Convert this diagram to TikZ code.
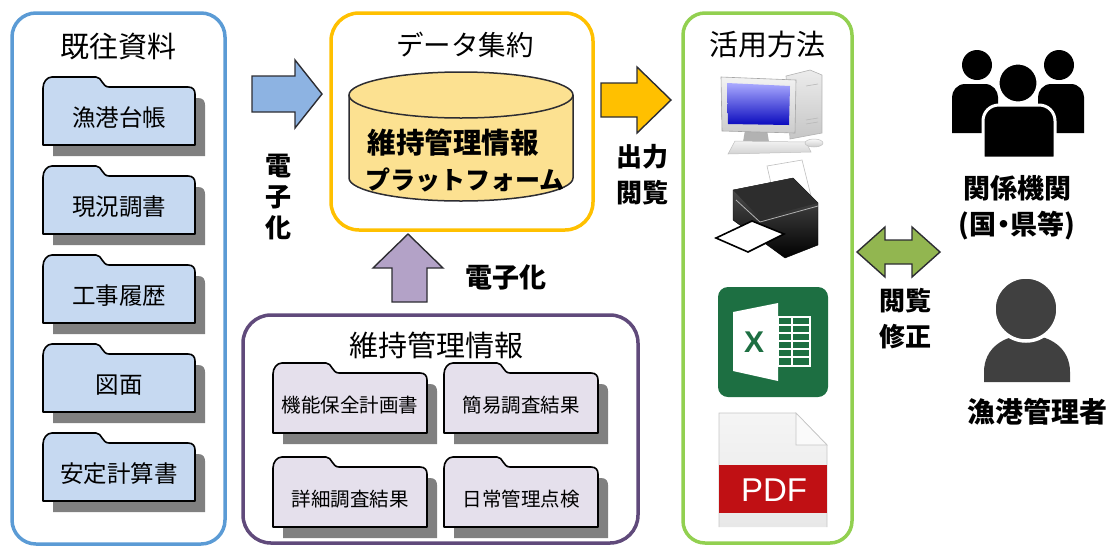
\documentclass[tikz,border=0pt]{standalone}
\usepackage{fontspec}
\setmainfont{Noto Sans CJK JP}
\newfontfamily\latinsans{Liberation Sans}

\definecolor{bluebox}{RGB}{91,155,213}
\definecolor{bluefld}{RGB}{198,217,241}
\definecolor{bluearrow}{RGB}{141,179,226}
\definecolor{yelbox}{RGB}{255,192,0}
\definecolor{cylfill}{RGB}{252,225,145}
\definecolor{yelarrow}{RGB}{255,192,0}
\definecolor{grnbox}{RGB}{146,208,80}
\definecolor{grnarrow}{RGB}{146,182,80}
\definecolor{purbox}{RGB}{96,74,123}
\definecolor{purarrow}{RGB}{179,162,199}
\definecolor{purfld}{RGB}{229,224,236}
\definecolor{shadowgray}{RGB}{128,128,128}
\definecolor{arrowline}{RGB}{45,45,50}
\definecolor{xlgreen}{RGB}{29,111,66}
\definecolor{pdfred}{RGB}{192,16,20}
\definecolor{persongray}{RGB}{64,64,64}

\tikzset{
  frame/.style={line width=3.5pt},
  ttl/.style={font=\fontsize{29}{29}\selectfont, inner sep=0pt},
  fldL/.style={font=\fontsize{23.5}{23.5}\selectfont, inner sep=0pt},
  fldP/.style={font=\fontsize{19.5}{19.5}\selectfont, inner sep=0pt},
  boldlbl/.style={font=\fontsize{26}{36}\selectfont\bfseries, inner sep=0pt, align=center},
  fshadow/.style={fill=shadowgray},
  fline/.style={draw=black, line width=1.6pt, line join=round},
  blockarrow/.style={draw=arrowline, line width=1.4pt, line join=miter},
}

% folder with drop shadow: name, X, Y (tab top), W, H, fill, text, text style
\newcommand{\folder}[8]{%
  \fill[fshadow, shift={(10,11)}] (#2,#3+#5) -- (#2,#3+11)
    .. controls (#2,#3+5) and (#2+4,#3) .. (#2+9,#3) -- (#2+53,#3)
    .. controls (#2+59,#3) and (#2+59,#3+10) .. (#2+66,#3+10) -- (#2+#4-7,#3+10)
    .. controls (#2+#4-2,#3+10) and (#2+#4,#3+13) .. (#2+#4,#3+17) -- (#2+#4,#3+#5) -- cycle;
  \draw[fline, fill=#6] (#2,#3+#5) -- (#2,#3+11)
    .. controls (#2,#3+5) and (#2+4,#3) .. (#2+9,#3) -- (#2+53,#3)
    .. controls (#2+59,#3) and (#2+59,#3+10) .. (#2+66,#3+10) -- (#2+#4-7,#3+10)
    .. controls (#2+#4-2,#3+10) and (#2+#4,#3+13) .. (#2+#4,#3+17) -- (#2+#4,#3+#5) -- cycle;
  \node[#8] (#1) at (#2+#4/2, #3+#5/2+7) {#7};
}

\begin{document}
\begin{tikzpicture}[x=1pt,y=-1pt]
\useasboundingbox (0,0) rectangle (1116,547);

% ---------- existing documents ----------
\draw[frame, draw=bluebox, rounded corners=24] (12,13) rectangle (225,544);
\node[ttl] (kiou) at (118,47) {既往資料};
\folder{f1}{43}{77}{152}{68}{bluefld}{漁港台帳}{fldL}
\folder{f2}{43}{166}{152}{68}{bluefld}{現況調書}{fldL}
\folder{f3}{43}{255}{152}{68}{bluefld}{工事履歴}{fldL}
\folder{f4}{43}{344}{152}{68}{bluefld}{図面}{fldL}
\folder{f5}{43}{433}{152}{68}{bluefld}{安定計算書}{fldL}

% digitisation arrow
\draw[blockarrow, fill=bluearrow] (252,76) -- (295,76) -- (295,60) -- (322,94)
  -- (295,128) -- (295,112) -- (252,112) -- cycle;
\node[boldlbl, font=\fontsize{26}{31}\selectfont\bfseries] (dig1) at (278,197) {電\\子\\化};

% ---------- data aggregation ----------
\draw[frame, draw=yelbox, rounded corners=28] (331,13) rectangle (593,230);
\node[ttl, font=\fontsize{27.5}{27.5}\selectfont] (shuyaku) at (465,45) {データ集約};
\fill[cylfill] (349,95) -- (349,178)
  .. controls (349,190.7) and (399.1,201) .. (461,201)
  .. controls (522.9,201) and (573,190.7) .. (573,178) -- (573,95) -- cycle;
\draw[line width=1.5pt, draw=arrowline] (349,95) -- (349,178)
  .. controls (349,190.7) and (399.1,201) .. (461,201)
  .. controls (522.9,201) and (573,190.7) .. (573,178) -- (573,95);
\draw[line width=1.5pt, draw=arrowline, fill=cylfill] (461,95) ellipse [x radius=112, y radius=23];
\node[inner sep=0pt, font=\fontsize{28.5}{28.5}\selectfont\bfseries] (plat1) at (453,143) {維持管理情報};
\node[inner sep=0pt, font=\fontsize{25}{25}\selectfont\bfseries] (plat2) at (465,180) {プラットフォーム};

% output arrow
\draw[blockarrow, fill=yelarrow] (601,83) -- (637,83) -- (637,67) -- (671,100)
  -- (637,133) -- (637,117) -- (601,117) -- cycle;
\node[boldlbl] (outlbl) at (642,175) {出力\\閲覧};

% ---------- maintenance information ----------
\draw[frame, draw=purbox, rounded corners=28] (243,315) rectangle (638,543);
\node[ttl] (ijijoho) at (436,345) {維持管理情報};
\folder{p1}{273}{363}{154}{70}{purfld}{機能保全計画書}{fldP}
\folder{p2}{444}{363}{154}{70}{purfld}{簡易調査結果}{fldP}
\folder{p3}{273}{457}{154}{70}{purfld}{詳細調査結果}{fldP}
\folder{p4}{444}{457}{154}{70}{purfld}{日常管理点検}{fldP}

\draw[blockarrow, fill=purarrow] (408,234) -- (443,268) -- (427,268) -- (427,302)
  -- (392,302) -- (392,268) -- (373,268) -- cycle;
\node[inner sep=0pt, font=\fontsize{27}{27}\selectfont\bfseries] (dig2) at (506,277) {電子化};

% ---------- usage ----------
\draw[frame, draw=grnbox, rounded corners=22] (683,13) rectangle (852,543);
\node[ttl] (katsuyo) at (767,45) {活用方法};

% desktop computer
\shade[top color=gray!15, bottom color=gray!45, draw=gray!60, line width=0.6pt]
  (786,76) -- (810,70) -- (822,75) -- (822,133) -- (790,139) -- cycle;
\draw[gray!55, line width=0.6pt] (806,86) -- (818,84) (806,120) -- (818,118) (806,124) -- (818,122);
\fill[gray!60] (745,130) -- (767,130) -- (769,142) -- (743,142) -- cycle;
\shade[top color=gray!10, bottom color=gray!40, draw=gray!70, line width=0.6pt]
  (721,77) -- (796,80) -- (795,133) -- (722,131) -- cycle;
\shade[top color={rgb,255:red,170;green,170;blue,255}, bottom color={rgb,255:red,10;green,10;blue,190}]
  (727,83) -- (790,86) -- (789,125) -- (728,124) -- cycle;
\shade[top color=gray!10, bottom color=gray!35, draw=gray!50, line width=0.5pt]
  (735,141) -- (806,142) -- (811,152) -- (728,154) -- cycle;
\shade[top color=gray!5, bottom color=gray!40, draw=gray!50, line width=0.5pt]
  (814,143) ellipse [x radius=9, y radius=4];

% printer
\draw[fill=white, draw=gray!50, line width=0.6pt] (767,166) -- (802,160) -- (811,196) -- (775,201) -- cycle;
\shade[top color=gray!70!black, bottom color=black, draw=black]
  (733,190) -- (793,178) -- (818,203) -- (818,245) -- (785,258) -- (733,220) -- cycle;
\fill[gray!35!black] (733,190) -- (793,178) -- (818,203) -- (760,218) -- cycle;
\draw[gray!60, line width=0.8pt] (736,200) -- (760,222) -- (818,206);
\draw[fill=white, draw=black, line width=1.6pt] (716,238) -- (752,221) -- (784,234) -- (748,252) -- cycle;

% spreadsheet icon
\fill[xlgreen, rounded corners=10] (718,287) rectangle (828,397);
\draw[white, line width=1.6pt] (778,317) rectangle (810,366);
\foreach \gy in {325,333,341,349,357} \draw[white, line width=1.3pt] (778,\gy) -- (810,\gy);
\draw[white, line width=1.3pt] (792,317) -- (792,366);
\fill[white] (733,312) -- (778,303) -- (778,381) -- (733,371) -- cycle;
\node[inner sep=0pt, text=xlgreen, font=\latinsans\fontsize{30}{30}\selectfont\bfseries] (xl) at (754,342) {X};

% PDF icon
\shade[top color=gray!8, bottom color=gray!18, draw=gray!45, line width=0.7pt]
  (719,527) -- (719,413) -- (796,413) -- (827,445) -- (827,527);
\draw[fill=gray!4, draw=gray!45, line width=0.7pt] (796,413) -- (796,445) -- (827,445) -- cycle;
\fill[pdfred] (719,465) rectangle (827,513);
\node[inner sep=0pt, text=white, font=\latinsans\fontsize{33}{33}\selectfont] (pdf) at (774,490) {PDF};

% browse / edit arrow
\draw[blockarrow, fill=grnarrow] (857,252) -- (885,227) -- (885,240) -- (912,240) -- (912,227)
  -- (940,252) -- (912,277) -- (912,264) -- (885,264) -- (885,277) -- cycle;
\node[boldlbl] (editlbl) at (905,319) {閲覧\\修正};

% ---------- stakeholders ----------
\fill[black] (977,65) circle [radius=15];
\fill[black] (1059,65) circle [radius=15];
\fill[black] (952,133) -- (952,97) .. controls (952,91) and (957,84) .. (965,84) -- (985,84)
  .. controls (993,84) and (998,91) .. (998,97) -- (998,133) -- cycle;
\fill[black] (1038,133) -- (1038,97) .. controls (1038,91) and (1043,84) .. (1051,84) -- (1071,84)
  .. controls (1079,84) and (1084,91) .. (1084,97) -- (1084,133) -- cycle;
\draw[fill=black, draw=white, line width=3pt] (983,158) -- (983,121)
  .. controls (983,112) and (990,105) .. (999,105) -- (1039,105)
  .. controls (1048,105) and (1055,112) .. (1055,121) -- (1055,158) -- cycle;
\draw[fill=black, draw=white, line width=3pt] (1018,83) circle [radius=20];
\node[boldlbl, font=\fontsize{27}{36}\selectfont\bfseries\addfontfeatures{RawFeature=+palt}] (kankei) at (1017,208) {関係機関\\(国・県等)};

\fill[persongray] (984,382) -- (984,372) .. controls (984,348) and (1004,335) .. (1027,335)
  .. controls (1050,335) and (1070,348) .. (1070,372) -- (1070,382) -- cycle;
\draw[fill=persongray, draw=white, line width=3.5pt] (1026,309) circle [radius=32];
\node[inner sep=0pt, font=\fontsize{28}{28}\selectfont\bfseries] (kanrisha) at (1037,412) {漁港管理者};

\end{tikzpicture}
\end{document}
